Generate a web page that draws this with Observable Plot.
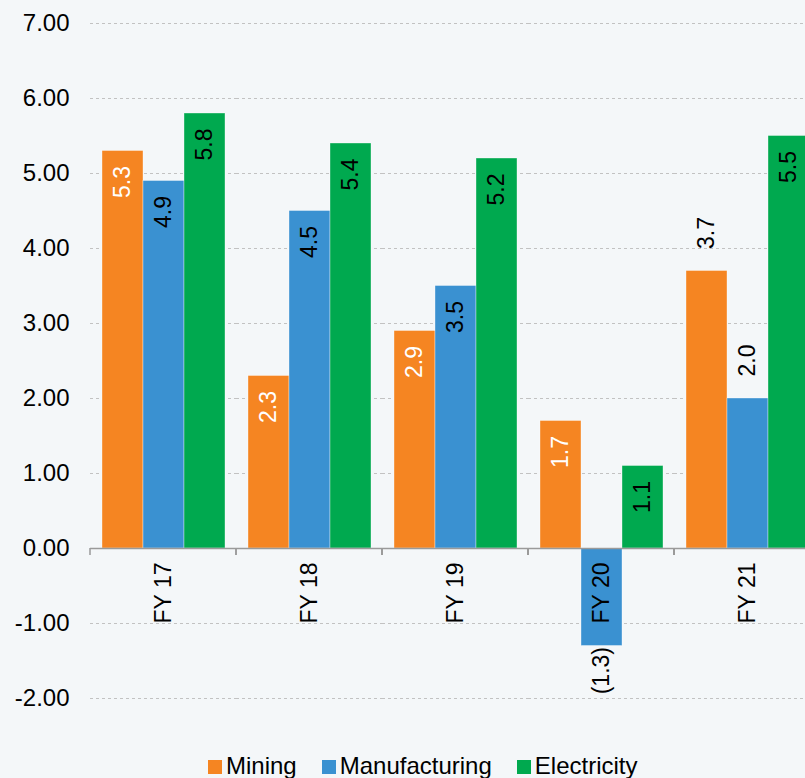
<!DOCTYPE html>
<html>
<head>
<meta charset="utf-8">
<script src="https://cdn.jsdelivr.net/npm/d3@7"></script>
<script src="https://cdn.jsdelivr.net/npm/@observablehq/plot@0.6"></script>
<style>
  html, body { margin: 0; padding: 0; background: #F4F7F9; overflow: hidden; }
  #wrap { position: relative; width: 805px; height: 778px; overflow: hidden; font-family: "Liberation Sans", Arial, sans-serif; }
  #legend { position: absolute; left: 208px; top: 752px; display: flex; align-items: baseline; font-size: 24px; color: #000; white-space: nowrap; }
  #legend .item { display: flex; align-items: baseline; margin-right: 25px; }
  #legend .sw { display: inline-block; width: 14px; height: 14px; margin-right: 4px; }
</style>
</head>
<body>
<div id="wrap"><div id="chart"></div><div id="legend"></div></div>
<script>
const years = ["FY 17", "FY 18", "FY 19", "FY 20", "FY 21"];
const series = ["Mining", "Manufacturing", "Electricity"];
const mining = [5.3, 2.3, 2.9, 1.7, 3.7];
const manufacturing = [4.9, 4.5, 3.5, -1.3, 2.0];
const electricity = [5.8, 5.4, 5.2, 1.1, 5.5];
const colors = ["#F58522", "#3A91D1", "#00A94F"];
const yTicks = [-2, -1, 0, 1, 2, 3, 4, 5, 6, 7];

const seriesValues = {Mining: mining, Manufacturing: manufacturing, Electricity: electricity};
const data = [];
years.forEach((yr, i) => series.forEach(s => data.push({year: yr, series: s, value: seriesValues[s][i]})));

// labels placed above the bar (as in the reference)
const outside = new Set(["FY 21|Mining", "FY 21|Manufacturing"]);
const fmt = v => v < 0 ? `(${Math.abs(v).toFixed(1)})` : v.toFixed(1);
const inside = data.filter(d => d.value >= 0 && !outside.has(d.year + "|" + d.series));
const above = data.filter(d => outside.has(d.year + "|" + d.series));
const below = data.filter(d => d.value < 0);

const font = "Liberation Sans, Arial, sans-serif";

const tickMark = (index, scales, values, dimensions) => {
  const g = d3.create("svg:g");
  const y0 = scales.y(0);
  for (const yr of years) {
    const x = scales.fx(yr);
    g.append("line").attr("x1", x).attr("x2", x).attr("y1", y0).attr("y2", y0 + 7)
      .attr("stroke", "#9a9a9a").attr("stroke-width", 1.5);
  }
  return g.node();
};

const chart = Plot.plot({
  width: 820,
  height: 778,
  marginLeft: 90,
  marginRight: 0,
  marginTop: 23,
  marginBottom: 80,
  style: {background: "transparent", maxWidth: "none", fontFamily: font, color: "#000", overflow: "visible"},
  fx: {domain: years, padding: 0, axis: null},
  x: {domain: series, paddingInner: 0, paddingOuter: 0.24, axis: null},
  y: {domain: [-2, 7], axis: null},
  color: {domain: series, range: colors},
  marks: [
    Plot.ruleY(yTicks.filter(d => d !== 0), {stroke: "#c2c2c2", strokeWidth: 1, strokeDasharray: "3,3"}),
    Plot.axisY({ticks: yTicks, tickFormat: d => d.toFixed(2), tickSize: 0, tickPadding: 21, fontSize: 24, fill: "#000", label: null}),
    Plot.barY(data, {fx: "year", x: "series", y: "value", fill: "series", stroke: "#ffffff", strokeWidth: 0.6, strokeOpacity: 0.6}),
    Plot.ruleY([0], {stroke: "#9a9a9a", strokeWidth: 1.5}),
    tickMark,
    Plot.text(inside, {fx: "year", x: "series", y: "value", text: d => fmt(d.value), rotate: -90, textAnchor: "end", dy: 15, fontSize: 23, fill: d => d.series === "Mining" ? "#ffffff" : "#000000"}),
    Plot.text(above, {fx: "year", x: "series", y: "value", text: d => fmt(d.value), rotate: -90, textAnchor: "start", dy: -22, fontSize: 23, fill: "#000"}),
    Plot.text(below, {fx: "year", x: "series", y: "value", text: d => fmt(d.value), rotate: -90, textAnchor: "end", dy: 1, fontSize: 23, fill: "#000"}),
    Plot.text(years, {fx: d => d, y: 0, text: d => d, rotate: -90, textAnchor: "end", dy: 14, fontSize: 23, fill: "#000"})
  ]
});
document.getElementById("chart").appendChild(chart);

const legend = d3.select("#legend");
series.forEach((s, i) => {
  const item = legend.append("div").attr("class", "item");
  item.append("span").attr("class", "sw").style("background", colors[i]);
  item.append("span").text(s);
});
</script>
</body>
</html>
